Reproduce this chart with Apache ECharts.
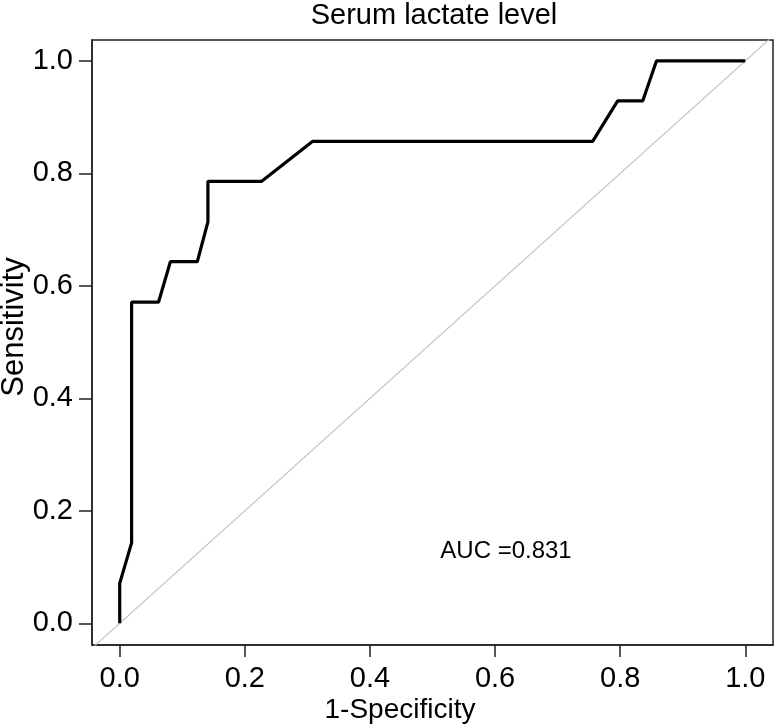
<!DOCTYPE html>
<html>
<head>
<meta charset="utf-8">
<script src="https://cdn.jsdelivr.net/npm/echarts@6/dist/echarts.min.js"></script>
<style>html,body{margin:0;padding:0;background:#fff}#c{width:775px;height:728px}</style>
</head>
<body>
<div id="c"></div>
<script>
// ROC curve data (1-Specificity, Sensitivity)
var fpr = [0, 0, 0.019, 0.019, 0.062, 0.081, 0.124, 0.141, 0.141, 0.227, 0.308, 0.756, 0.796, 0.836, 0.858, 1.0];
var tpr = [0, 0.071, 0.143, 0.571, 0.571, 0.643, 0.643, 0.714, 0.786, 0.786, 0.857, 0.857, 0.929, 0.929, 1.0, 1.0];
// reference diagonal
var refX = [-0.1, 1.1];
var refY = [-0.1, 1.1];
var tickVals = [0, 0.2, 0.4, 0.6, 0.8, 1.0];
var titleText = 'Serum lactate level';
var xName = '1-Specificity';
var yName = 'Sensitivity';
var aucText = 'AUC =0.831';

var font = '"Liberation Sans", Arial, Helvetica, sans-serif';
var curve = fpr.map(function (x, i) { return [x, tpr[i]]; });
var diag = refX.map(function (x, i) { return [x, refY[i]]; });

var chart = echarts.init(document.getElementById('c'), null, {renderer: 'canvas'});
chart.setOption({
  animation: false,
  backgroundColor: '#fff',
  grid: {left: 92, right: 2, top: 40, bottom: 83, show: true, borderColor: '#222', borderWidth: 1.5, containLabel: false},
  xAxis: {
    type: 'value', min: -0.0443, max: 1.0443,
    splitLine: {show: false},
    axisLine: {show: true, onZero: false, lineStyle: {color: '#222', width: 1.5}},
    axisTick: {show: true, customValues: tickVals, length: 12, lineStyle: {color: '#222', width: 1.5}},
    axisLabel: {show: true, customValues: tickVals, margin: 19, fontSize: 29, color: '#000', fontFamily: font,
      formatter: function (v) { return v.toFixed(1); }}
  },
  yAxis: {
    type: 'value', min: -0.0386, max: 1.0373,
    splitLine: {show: false},
    axisLine: {show: true, onZero: false, lineStyle: {color: '#222', width: 1.5}},
    axisTick: {show: true, customValues: tickVals, length: 13, lineStyle: {color: '#222', width: 1.5}},
    axisLabel: {show: true, customValues: tickVals, margin: 19, fontSize: 29, color: '#000', fontFamily: font,
      formatter: function (v) { return v.toFixed(1); }}
  },
  graphic: [
    {type: 'text', x: 434, y: 16, style: {text: titleText, align: 'center', verticalAlign: 'middle', fontSize: 29, fill: '#000', fontFamily: font}},
    {type: 'text', x: 400, y: 710, style: {text: xName, align: 'center', verticalAlign: 'middle', fontSize: 28, fill: '#000', fontFamily: font}},
    {type: 'text', x: 14, y: 327, rotation: Math.PI / 2, style: {text: yName, align: 'center', verticalAlign: 'middle', fontSize: 31, fill: '#000', fontFamily: font}},
    {type: 'text', x: 506, y: 551, style: {text: aucText, align: 'center', verticalAlign: 'middle', fontSize: 24, fill: '#000', fontFamily: font}}
  ],
  series: [
    {type: 'line', data: diag, showSymbol: false, symbol: 'none', clip: true, lineStyle: {color: '#c4c4c4', width: 1.2}, silent: true},
    {type: 'line', data: curve, showSymbol: false, symbol: 'none', clip: true, lineStyle: {color: '#000', width: 3.2}, silent: true}
  ]
});
</script>
</body>
</html>
